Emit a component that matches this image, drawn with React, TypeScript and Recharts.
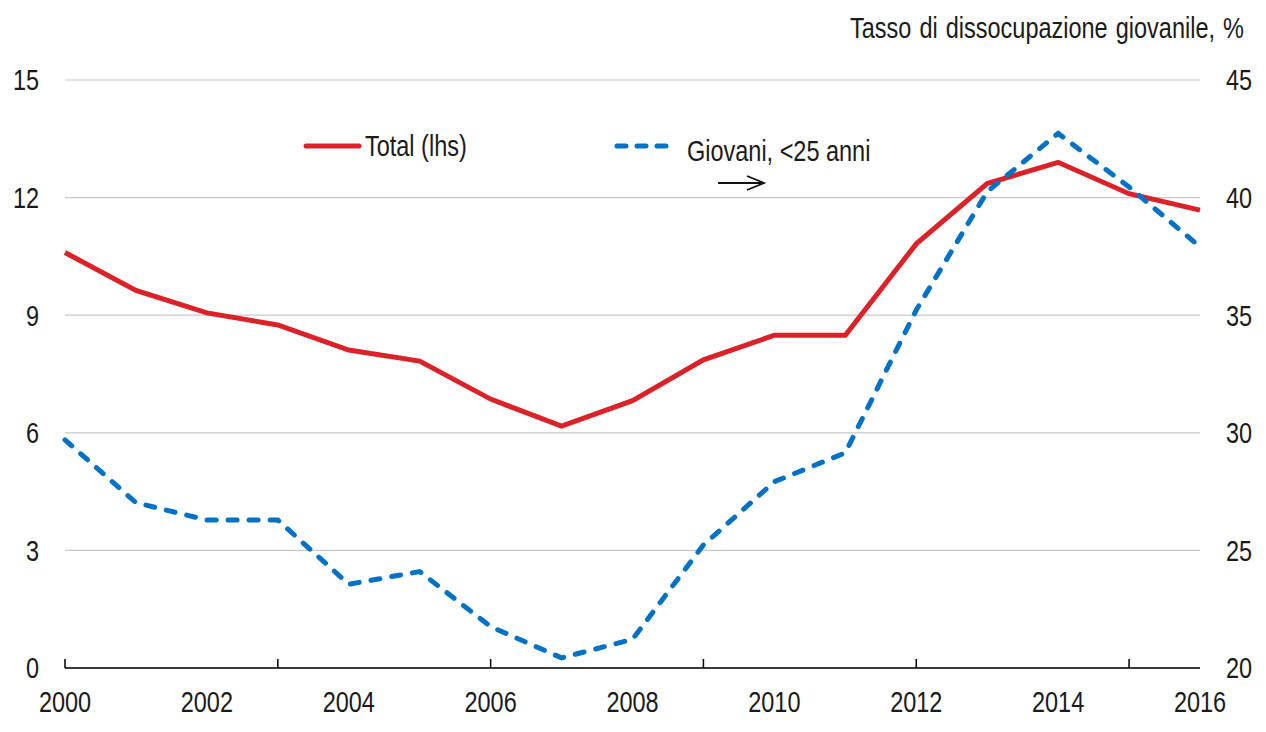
import React from 'react';
import { LineChart, Line, XAxis, YAxis, CartesianGrid, Legend } from 'recharts';

const years = [2000, 2001, 2002, 2003, 2004, 2005, 2006, 2007, 2008, 2009, 2010, 2011, 2012, 2013, 2014, 2015, 2016];
const totalRate = [10.6, 9.63, 9.06, 8.75, 8.11, 7.83, 6.86, 6.17, 6.82, 7.86, 8.49, 8.49, 10.82, 12.36, 12.9, 12.1, 11.68];
const youthRate = [29.7, 27.03, 26.29, 26.29, 23.56, 24.1, 21.76, 20.43, 21.22, 25.23, 27.92, 29.15, 35.22, 40.25, 42.73, 40.45, 37.91];
const leftTicks = [0, 3, 6, 9, 12, 15];
const rightTicks = [20, 25, 30, 35, 40, 45];
const labelYears = [2000, 2002, 2004, 2006, 2008, 2010, 2012, 2014, 2016];
const markYears = [2000, 2003, 2006, 2009, 2012, 2015];
const seriesNames = { total: 'Total (lhs)', youth: 'Giovani, <25 anni' };
const title = 'Tasso di dissocupazione giovanile, %';

const data = years.map((y, i) => ({ year: y, total: totalRate[i], youth: youthRate[i] }));

const FONT = '"Liberation Sans", Arial, sans-serif';
const FS = 29;
const SX = 0.81;
const TEXT = '#1a1a1a';
const RED = '#dc2229';
const BLUE = '#0072c6';
const DASH = '9 12';

const NarrowText = ({ x, y, anchor, children, dy, wordSpacing }: any) => (
  <text
    transform={`translate(${x},${y}) scale(${SX},1)`}
    textAnchor={anchor}
    dy={dy}
    fontSize={FS}
    fontFamily={FONT}
    fill={TEXT}
    style={wordSpacing ? { wordSpacing } : undefined}
  >
    {children}
  </text>
);

const XTick = (props: any) => {
  const { x, y, payload } = props;
  const v = payload.value;
  return (
    <g>
      {markYears.includes(v) && <line x1={x} x2={x} y1={y - 9} y2={y} stroke="#000" strokeWidth={1.5} />}
      {labelYears.includes(v) && (
        <NarrowText x={x} y={y + 44} anchor="middle">{v}</NarrowText>
      )}
    </g>
  );
};

const YTick = (props: any) => {
  const { x, y, payload, textAnchor } = props;
  return <NarrowText x={x} y={y} anchor={textAnchor} dy="0.36em">{payload.value}</NarrowText>;
};

const renderLegend = (props: any) => {
  const payload = props.payload || [];
  const red = payload.find((p: any) => p.dataKey === 'total');
  const blue = payload.find((p: any) => p.dataKey === 'youth');
  return (
    <svg width={1266} height={732} style={{ position: 'absolute', left: 0, top: 0 }}>
      <NarrowText x={1244} y={38} anchor="end" wordSpacing="2px">{title}</NarrowText>
      {red && (
        <g>
          <line x1={306} x2={359} y1={146} y2={146} stroke={red.color} strokeWidth={5} strokeLinecap="round" />
          <NarrowText x={365} y={156} anchor="start">{red.value}</NarrowText>
        </g>
      )}
      {blue && (
        <g>
          <line x1={617} x2={668} y1={146} y2={146} stroke={blue.color} strokeWidth={5} strokeLinecap="round" strokeDasharray="9 11" />
          <NarrowText x={687} y={161} anchor="start">{blue.value}</NarrowText>
          <line x1={718} x2={763} y1={183} y2={183} stroke="#111" strokeWidth={1.8} />
          <polyline points="747,176 764,183 747,190" fill="none" stroke="#111" strokeWidth={1.8} />
        </g>
      )}
    </svg>
  );
};

export default function App() {
  return (
    <div style={{ position: 'absolute', left: 0, top: 0, width: 1266, height: 732, background: '#fff' }}>
      <LineChart width={1266} height={732} data={data} margin={{ top: 80, right: 0, bottom: 0, left: 0 }}>
        <CartesianGrid vertical={false} stroke="#c8c8c8" strokeWidth={1.2} yAxisId="left" />
        <XAxis
          dataKey="year"
          type="number"
          domain={[2000, 2016]}
          ticks={years}
          interval={0}
          height={64}
          tickSize={0}
          tickMargin={0}
          tickLine={false}
          axisLine={{ stroke: '#000', strokeWidth: 1.5 }}
          tick={<XTick />}
        />
        <YAxis
          yAxisId="left"
          domain={[0, 15]}
          ticks={leftTicks}
          interval={0}
          width={65}
          axisLine={false}
          tickLine={false}
          tickSize={0}
          tickMargin={26}
          tick={<YTick />}
        />
        <YAxis
          yAxisId="right"
          orientation="right"
          domain={[20, 45]}
          ticks={rightTicks}
          interval={0}
          width={66}
          axisLine={false}
          tickLine={false}
          tickSize={0}
          tickMargin={26}
          tick={<YTick />}
        />
        <Legend layout="horizontal" verticalAlign="middle" align="center" content={renderLegend}
          wrapperStyle={{ position: 'absolute', left: 0, top: 0, width: 1266, height: 732, pointerEvents: 'none' }} />
        <Line yAxisId="left" type="linear" dataKey="total" name={seriesNames.total} stroke={RED} strokeWidth={5}
          dot={false} activeDot={false} isAnimationActive={false} />
        <Line yAxisId="right" type="linear" dataKey="youth" name={seriesNames.youth} stroke={BLUE} strokeWidth={5}
          strokeDasharray={DASH} strokeLinecap="round" dot={false} activeDot={false} isAnimationActive={false} />
      </LineChart>
    </div>
  );
}
